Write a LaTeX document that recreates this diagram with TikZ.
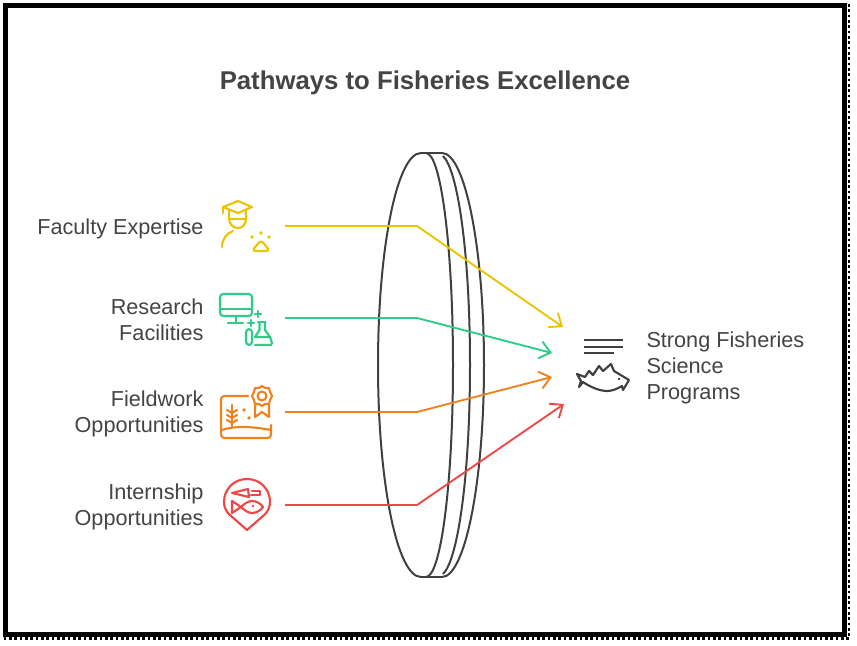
\documentclass[tikz,border=0pt]{standalone}
\usepackage{fontspec}
\setmainfont{Liberation Sans}
\usetikzlibrary{arrows.meta}
\definecolor{txtgrey}{RGB}{68,68,68}
\definecolor{lensgrey}{RGB}{64,64,64}
\definecolor{yel}{RGB}{234,196,0}
\definecolor{grn}{RGB}{46,204,135}
\definecolor{org}{RGB}{240,130,30}
\definecolor{rd}{RGB}{240,70,70}
\tikzset{every picture/.style={line width=0.75pt}}
\tikzset{
  lbl/.style={inner sep=0pt,text=txtgrey,font=\fontsize{16.25}{19.5}\selectfont},
  ttl/.style={inner sep=0pt,text=txtgrey,font=\fontsize{19.3}{24}\selectfont\bfseries},
  lens/.style={draw=lensgrey,line width=1.5pt},
  link/.style={line width=1.4pt,-{Straight Barb[length=8pt,width=13pt,line width=1.4pt]}},
  ico/.style={line width=1.6pt,line join=round,line cap=round}
}

\begin{document}
\begin{tikzpicture}[x=0.75pt,y=0.75pt,yscale=-1,xscale=1]
\useasboundingbox (0,0) rectangle (857,646);
\fill [white] (0,0) rectangle (857,646);

%Shape: Frame
\draw [line width=3.75pt] (5.5,5.5) rectangle (844.5,634);
\draw [line width=1.7pt,dash pattern=on 2pt off 2pt] (849,4) -- (849,638.5) -- (4,638.5);
\draw [line width=1.7pt,dash pattern=on 2pt off 2pt] (3,4) -- (847,4);

%Shape: Lens
\draw [lens] (421,153) .. controls (397,153) and (378,248) .. (378,365) .. controls (378,482) and (397,577) .. (421,577) ;
\draw [lens] (421,153) -- (442,153) ;
\draw [lens] (421,577) -- (442,577) ;
\draw [lens] (426,153) .. controls (441,153) and (453,248) .. (453,365) .. controls (453,482) and (441,577) .. (426,577) ;
\draw [lens] (443,156) .. controls (458,170) and (470,255) .. (470,365) .. controls (470,475) and (458,560) .. (443,574) ;
\draw [lens] (442,153) .. controls (465,153) and (484,248) .. (484,365) .. controls (484,482) and (465,577) .. (442,577) ;

%Straight Lines
\coordinate (facultyA) at (285,226);
\coordinate (facultyB) at (417,226);
\coordinate (facultyC) at (563,327);
\coordinate (researchA) at (285,318);
\coordinate (researchB) at (417,318);
\coordinate (researchC) at (552,353);
\coordinate (fieldA) at (285,412);
\coordinate (fieldB) at (417,412);
\coordinate (fieldC) at (552,377);
\coordinate (internA) at (285,505);
\coordinate (internB) at (417,505);
\coordinate (internC) at (564,404);
\draw [link,yel] (facultyA) -- (facultyB) -- (facultyC) ;
\draw [link,grn] (researchA) -- (researchB) -- (researchC) ;
\draw [link,org] (fieldA) -- (fieldB) -- (fieldC) ;
\draw [link,rd] (internA) -- (internB) -- (internC) ;

%Shape: Graduate icon
\draw [ico,yel] (223,207) -- (238,201) -- (252,207) -- (238,213) -- cycle ;
\draw [ico,yel] (223,207) -- (223,213) ;
\draw [ico,yel] (229,210) -- (229,218) .. controls (229,224) and (233,228) .. (238,228) .. controls (243,228) and (246,224) .. (246,218) -- (246,210) ;
\draw [ico,yel] (229,219) -- (246,219) ;
\draw [ico,yel] (222,247) .. controls (222,239) and (227,233) .. (233,231) ;
\draw [ico,yel,rounded corners=2.5] (261,240) -- (270,251) -- (252,251) -- cycle ;
\fill [yel] (252,237) circle (1.8) (261,233) circle (1.8) (269,237) circle (1.8) ;

%Shape: Computer icon
\draw [ico,grn,rounded corners=2.5] (220,294) rectangle (252,316) ;
\draw [ico,grn] (220,309) -- (252,309) ;
\draw [ico,grn] (236,316) -- (236,323) ;
\draw [ico,grn] (228,323) -- (243,323) ;
\draw [ico,grn] (255,314) -- (261,314) (258,311) -- (258,317) ;
\draw [ico,grn] (248,323) -- (254,323) (251,320) -- (251,326) ;
\draw [ico,grn,rounded corners=2.5] (246,329) -- (252,329) -- (252,345) -- (246,345) -- cycle ;
\draw [ico,grn] (258,322) -- (265,322) ;
\draw [ico,grn] (259.5,322) -- (259.5,330) -- (255,337) -- (270,337) -- (265,330) -- (265,322) ;
\draw [ico,grn] (270,337) -- (272,343) -- (271,345) -- (255,345) ;

%Shape: Field icon
\draw [ico,org,rounded corners=2.5] (248,396) -- (221,396) -- (221,438) -- (271,438) -- (271,425) ;
\draw [ico,org] (222,430) .. controls (233,426) and (250,426) .. (271,430) ;
\draw [ico,org] (262,386) -- (265,388) -- (269,388) -- (270,392) -- (272,396) -- (270,400) -- (269,404) -- (265,404) -- (262,406) -- (259,404) -- (255,404) -- (254,400) -- (252,396) -- (254,392) -- (255,388) -- (259,388) -- cycle ;
\draw [ico,org] (262,396) circle (4.5) ;
\draw [ico,org] (255,405) -- (255,417) -- (262,412) -- (269,417) -- (269,405) ;
\draw [ico,org] (232,405) -- (232,427) ;
\draw [ico,org] (227,410) -- (232,413) -- (237,410) (227,415) -- (232,418) -- (237,415) (227,420) -- (232,423) -- (237,420) ;
\fill [org] (244,410) circle (1.8) (249,418) circle (1.8) ;

%Shape: Pin icon
\draw [ico,rd] (247,530) -- (231,516) .. controls (226,512) and (224,507) .. (224,502) .. controls (224,489) and (234,479) .. (247,479) .. controls (260,479) and (270,489) .. (270,502) .. controls (270,507) and (268,512) .. (263,516) -- cycle ;
\draw [ico,rd] (232,493) -- (248,489) -- (249,497) -- cycle ;
\draw [ico,rd] (252,491) -- (260,491) -- (260,495) -- (251,495) ;
\draw [ico,rd] (232,501) -- (241,507) -- (232,513) -- cycle ;
\draw [ico,rd] (241,507) .. controls (245,503) and (249,501) .. (252,501) .. controls (257,501) and (261,504) .. (263,507) .. controls (261,510) and (257,513) .. (252,513) .. controls (249,513) and (245,511) .. (241,507) -- cycle ;
\fill [rd] (253,506) circle (1.4) ;

%Shape: Fish icon
\draw [line width=1.5pt,lensgrey] (584,340) -- (623,340) (584,347) -- (623,347) (584,353) -- (614,353) ;
\draw [ico,lensgrey] (577,374) -- (585,377) -- (589,371) -- (593,375) -- (599,366) -- (603,371) -- (611,364) -- (614,371) -- (629,380) -- (623,390) -- (622,386) .. controls (617,389) and (612,391) .. (607,391) .. controls (600,391) and (590,387) .. (583,382) -- (579,387) -- (581,381) -- cycle ;
\fill [lensgrey] (619,379) circle (1.4) ;

% Text Node
\node [ttl] (title) at (425,83) {Pathways to Fisheries Excellence};
% Text Node
\node [lbl,anchor=east] (faculty) at (204,229) {Faculty Expertise};
% Text Node
\node [lbl,anchor=east,align=right] (research) at (204,320) {Research\\Facilities};
% Text Node
\node [lbl,anchor=east,align=right] (fieldwork) at (204,414) {Fieldwork\\Opportunities};
% Text Node
\node [lbl,anchor=east,align=right] (internship) at (204,507) {Internship\\Opportunities};
% Text Node
\node [lbl,anchor=west,align=left] (programs) at (646,368) {Strong Fisheries\\Science\\Programs};
\end{tikzpicture}
\end{document}
